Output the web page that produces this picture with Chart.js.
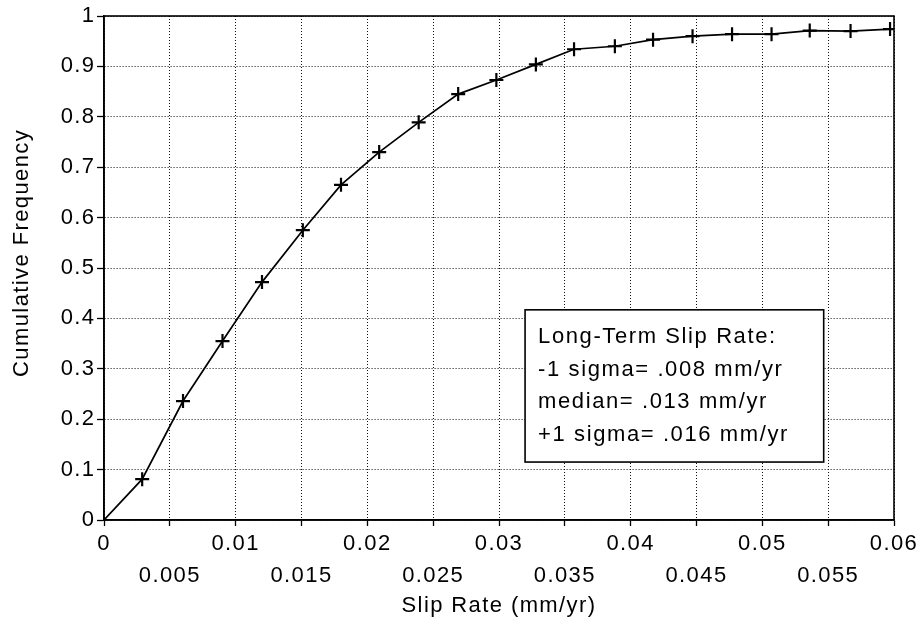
<!DOCTYPE html>
<html>
<head>
<meta charset="utf-8">
<script src="https://cdn.jsdelivr.net/npm/chart.js@4"></script>
<style>
  html, body { margin: 0; padding: 0; background: #fff; }
  #wrap { width: 922px; height: 625px; position: relative; }
</style>
</head>
<body>
<div id="wrap"><canvas id="cdf"></canvas></div>
<script>
// Cumulative distribution of long-term slip rate
const slipRate = [0, 0.0029, 0.0060, 0.0090, 0.0120, 0.0151, 0.0180, 0.0209, 0.0239, 0.0269, 0.0298,
                  0.0328, 0.0357, 0.0388, 0.0417, 0.0447, 0.0477, 0.0507, 0.0536, 0.0567, 0.0597];
const cumulativeFrequency = [0, 0.081, 0.236, 0.355, 0.472, 0.575, 0.665, 0.730, 0.789, 0.845, 0.873,
                             0.904, 0.934, 0.940, 0.953, 0.960, 0.964, 0.964, 0.971, 0.970, 0.974];

const xTickLabels = ['0', '0.005', '0.01', '0.015', '0.02', '0.025', '0.03', '0.035',
                     '0.04', '0.045', '0.05', '0.055', '0.06'];
const yTickLabels = ['0', '0.1', '0.2', '0.3', '0.4', '0.5', '0.6', '0.7', '0.8', '0.9', '1'];

const xTitle = 'Slip Rate (mm/yr)';
const yTitle = 'Cumulative Frequency';

const summaryLines = [
  'Long-Term Slip Rate:',
  '-1 sigma= .008 mm/yr',
  'median= .013 mm/yr',
  '+1 sigma= .016 mm/yr'
];

const FONT = '"Liberation Sans", Arial, Helvetica, sans-serif';
const TRACKING = '1.4px';

// Slightly wider letter tracking for all canvas text
const trackingPlugin = {
  id: 'tracking',
  beforeInit(chart) { chart.ctx.letterSpacing = TRACKING; },
  beforeDraw(chart) { chart.ctx.letterSpacing = TRACKING; }
};

// Solid frame around the plotting area, drawn over the dotted grid
const framePlugin = {
  id: 'frame',
  beforeDatasetsDraw(chart) {
    const { ctx, chartArea: a } = chart;
    ctx.save();
    ctx.strokeStyle = '#000';
    ctx.lineWidth = 1.6;
    ctx.strokeRect(a.left, a.top, a.right - a.left, a.bottom - a.top);
    ctx.restore();
  }
};

// Vertical axis title, set a little above the middle of the axis
const yTitlePlugin = {
  id: 'yTitle',
  afterDraw(chart) {
    const { ctx, chartArea: a } = chart;
    ctx.save();
    ctx.translate(22, a.top + (a.bottom - a.top) * 0.47);
    ctx.rotate(-Math.PI / 2);
    ctx.fillStyle = '#000';
    ctx.font = '22px ' + FONT;
    ctx.letterSpacing = TRACKING;
    ctx.textAlign = 'center';
    ctx.textBaseline = 'middle';
    ctx.fillText(yTitle, 0, 0);
    ctx.restore();
  }
};

// Boxed summary text in the lower right of the plot
const summaryPlugin = {
  id: 'summary',
  afterDatasetsDraw(chart) {
    const { ctx, chartArea: a } = chart;
    const w = a.right - a.left, h = a.bottom - a.top;
    const x0 = a.left + w * 0.533, x1 = a.left + w * 0.911;
    const y0 = a.top + h * 0.583, y1 = a.top + h * 0.885;
    ctx.save();
    ctx.fillStyle = '#fff';
    ctx.fillRect(x0, y0, x1 - x0, y1 - y0);
    ctx.strokeStyle = '#000';
    ctx.lineWidth = 1.6;
    ctx.strokeRect(x0, y0, x1 - x0, y1 - y0);
    ctx.fillStyle = '#000';
    ctx.font = '22px ' + FONT;
    ctx.letterSpacing = '1.6px';
    ctx.textAlign = 'left';
    ctx.textBaseline = 'middle';
    const step = (y1 - y0 - 54) / (summaryLines.length - 1);
    summaryLines.forEach((t, i) => ctx.fillText(t, x0 + 13, y0 + 27 + i * step));
    ctx.restore();
  }
};

new Chart(document.getElementById('cdf'), {
  type: 'line',
  data: {
    datasets: [{
      data: slipRate.map((x, i) => ({ x: x, y: cumulativeFrequency[i] })),
      borderColor: '#000',
      borderWidth: 1.7,
      tension: 0,
      fill: false,
      pointStyle: 'cross',
      pointRadius: (c) => c.dataIndex === 0 ? 0 : 7,
      pointHoverRadius: 7,
      pointBorderColor: '#000',
      pointBorderWidth: 2.2
    }]
  },
  options: {
    responsive: true,
    maintainAspectRatio: false,
    animation: false,
    events: [],
    layout: { padding: { left: 0, right: 28, top: 16, bottom: 0 } },
    plugins: {
      legend: { display: false },
      tooltip: { enabled: false }
    },
    scales: {
      x: {
        type: 'linear',
        min: 0,
        max: 0.06,
        afterFit(scale) { scale.height = 105; },
        ticks: {
          stepSize: 0.005,
          autoSkip: false,
          maxRotation: 0,
          padding: 2,
          color: '#000',
          font: { family: FONT, size: 22, lineHeight: 32 / 22 },
          callback: (v, i) => i % 2 === 0 ? xTickLabels[i] : ['', xTickLabels[i]]
        },
        grid: {
          color: '#111',
          lineWidth: 1,
          drawTicks: true,
          tickLength: 6,
          tickColor: '#000',
          tickWidth: 1.3
        },
        border: { display: true, color: '#000', width: 1.6, dash: [1, 2] },
        title: {
          display: true,
          text: xTitle,
          color: '#000',
          font: { family: FONT, size: 22 },
          padding: { top: 0, bottom: 6 }
        }
      },
      y: {
        type: 'linear',
        min: 0,
        max: 1,
        afterFit(scale) { scale.width = 104; },
        ticks: {
          stepSize: 0.1,
          padding: 1.5,
          color: '#000',
          font: { family: FONT, size: 22 },
          callback: (v, i) => yTickLabels[i]
        },
        grid: {
          color: '#111',
          lineWidth: 1,
          drawTicks: true,
          tickLength: 7,
          tickColor: '#000',
          tickWidth: 1.3
        },
        border: { display: true, color: '#000', width: 1.6, dash: [1, 2] },
        title: { display: false }
      }
    }
  },
  plugins: [trackingPlugin, framePlugin, summaryPlugin, yTitlePlugin]
});
</script>
</body>
</html>
